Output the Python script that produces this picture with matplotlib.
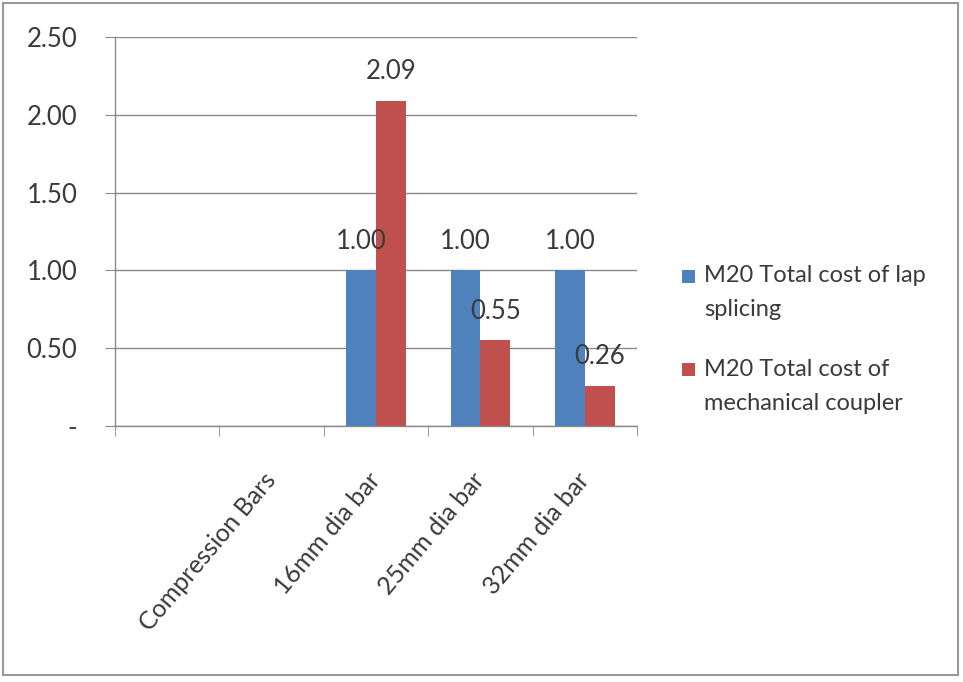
import numpy as np
import matplotlib.pyplot as plt
from matplotlib.patches import Rectangle
from matplotlib.container import BarContainer
from matplotlib.legend_handler import HandlerPatch
from matplotlib.ticker import FuncFormatter, MultipleLocator

plt.rcParams['font.family'] = ['Lato', 'DejaVu Sans']

# Cost ratios per bar size (first slot is a blank category, second is a heading row)
categories = ['', 'Compression Bars', '16mm dia bar', '25mm dia bar', '32mm dia bar']
lap_cost = [np.nan, np.nan, 1.00, 1.00, 1.00]
coupler_cost = [np.nan, np.nan, 2.09, 0.55, 0.26]
series_names = ['M20 Total cost of lap\nsplicing', 'M20 Total cost of\nmechanical coupler']
colors = ['#4F81BD', '#C0504D']
text_col = '#3a3a3a'
grid_col = '#8a8a8a'

fig = plt.figure(figsize=(9.63, 6.82), dpi=100)
ax = fig.add_axes([0.1194, 0.3754, 0.5421, 0.5703])

x = np.arange(len(categories))
w = 0.285
bars_a = ax.bar(x - w / 2, lap_cost, w, color=colors[0], label=series_names[0], zorder=3)
bars_b = ax.bar(x + w / 2, coupler_cost, w, color=colors[1], label=series_names[1], zorder=3)

for bars, vals in ((bars_a, lap_cost), (bars_b, coupler_cost)):
    for b, v in zip(bars, vals):
        if np.isnan(v):
            continue
        ax.annotate(f'{v:.2f}', (b.get_x() + b.get_width() / 2, v),
                    xytext=(0, 21), textcoords='offset points',
                    ha='center', va='center', fontsize=18.5, color=text_col, zorder=4)

ax.set_xlim(-0.5, len(categories) - 0.5)
ax.set_ylim(0, 2.5)
ax.yaxis.set_major_locator(MultipleLocator(0.5))
ax.yaxis.set_major_formatter(FuncFormatter(lambda v, p: '-' if abs(v) < 1e-9 else f'{v:.2f}'))
ax.grid(axis='y', color=grid_col, linewidth=1.0, zorder=0)

ax.set_xticks(x)
ax.set_xticklabels(categories, rotation=50, ha='right', va='center',
                   rotation_mode='anchor', fontsize=18, color=text_col)
ax.set_xticks(np.arange(len(categories) + 1) - 0.5, minor=True)
ax.tick_params(axis='x', which='major', length=0, pad=36)
ax.tick_params(axis='x', which='minor', length=7, color=grid_col, direction='out')
ax.tick_params(axis='y', length=7, color=grid_col, pad=20, labelsize=18.5, labelcolor=text_col)

for s in ('top', 'right'):
    ax.spines[s].set_visible(False)
for s in ('left', 'bottom'):
    ax.spines[s].set_color(grid_col)
    ax.spines[s].set_linewidth(1.0)


def top_square(legend, orig_handle, xdescent, ydescent, width, height, fontsize):
    # square key level with the first line of a wrapped label
    s = 0.55 * fontsize
    return Rectangle((-xdescent, -ydescent + 12.5), s, s)


def copy_colour(legend_handle, orig_handle):
    legend_handle.set_facecolor(orig_handle.patches[0].get_facecolor())
    legend_handle.set_edgecolor('none')


leg = ax.legend(loc='center left', bbox_to_anchor=(1.045, 0.222), frameon=False,
                fontsize=17, labelcolor=text_col, handlelength=0.55, handleheight=0.55,
                handletextpad=0.4, labelspacing=1.65,
                handler_map={BarContainer: HandlerPatch(patch_func=top_square,
                                                        update_func=copy_colour)})
for t in leg.get_texts():
    t.set_linespacing(1.75)

# outer chart border
fig.add_artist(Rectangle((0.003, 0.01), 0.992, 0.985, transform=fig.transFigure,
                         fill=False, edgecolor='#9a9a9a', linewidth=1.5))

fig.savefig('out.png', dpi=100)
